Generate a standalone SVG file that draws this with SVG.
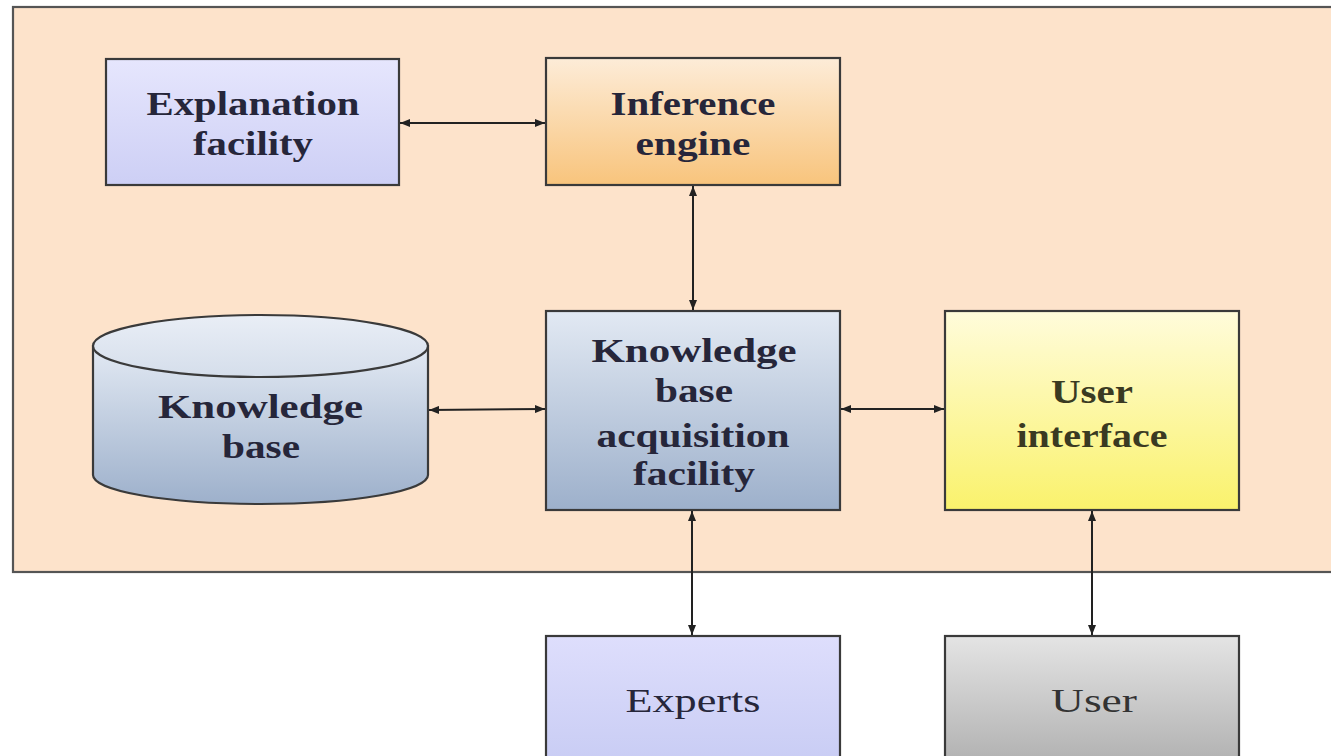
<svg xmlns="http://www.w3.org/2000/svg" width="1331" height="756" viewBox="0 0 1331 756">
<style>
.box{stroke:#3a3a3a;stroke-width:2.2}
.t{font-family:"Liberation Serif","Times New Roman",serif;font-size:33px;fill:#26263a;text-anchor:middle}
.b{font-weight:bold}
.c{stroke:#222;stroke-width:2;fill:none;marker-start:url(#ah);marker-end:url(#ah)}
</style>
<defs>
<marker id="ah" viewBox="0 0 10 8" refX="10" refY="4" markerWidth="10" markerHeight="8" markerUnits="userSpaceOnUse" orient="auto-start-reverse">
<path d="M0,0 L10,4 L0,8 Z" fill="#222"/>
</marker>
<linearGradient id="gExp" x1="0" y1="0" x2="0" y2="1"><stop offset="0" stop-color="#e6e6fd"/><stop offset="1" stop-color="#cdcff5"/></linearGradient>
<linearGradient id="gInf" x1="0" y1="0" x2="0" y2="1"><stop offset="0" stop-color="#fdecd8"/><stop offset="1" stop-color="#f8c47c"/></linearGradient>
<linearGradient id="gKB" x1="0" y1="0" x2="0" y2="1"><stop offset="0" stop-color="#e2e9f3"/><stop offset="1" stop-color="#9db0cb"/></linearGradient>
<linearGradient id="gKBtop" x1="0" y1="0" x2="0" y2="1"><stop offset="0" stop-color="#e9eef6"/><stop offset="1" stop-color="#d5deeb"/></linearGradient>
<linearGradient id="gUI" x1="0" y1="0" x2="0" y2="1"><stop offset="0" stop-color="#fffcdb"/><stop offset="1" stop-color="#faf26c"/></linearGradient>
<linearGradient id="gExpert" x1="0" y1="0" x2="0" y2="1"><stop offset="0" stop-color="#dedefc"/><stop offset="1" stop-color="#c8ccf4"/></linearGradient>
<linearGradient id="gUser" x1="0" y1="0" x2="0" y2="1"><stop offset="0" stop-color="#e4e4e4"/><stop offset="1" stop-color="#b0b0b0"/></linearGradient>
</defs>
<rect width="1331" height="756" fill="#ffffff"/>
<g id="system">
<rect x="13" y="7" width="1340" height="565" fill="#fde3cb" stroke="#555" stroke-width="2.2"/>
</g>
<g id="connectors">
<line class="c" x1="400" y1="123" x2="545" y2="123"/>
<line class="c" x1="693" y1="186" x2="693" y2="310"/>
<line class="c" x1="429" y1="410" x2="545" y2="409"/>
<line class="c" x1="841" y1="409" x2="944" y2="409"/>
<line class="c" x1="692" y1="511" x2="692" y2="635"/>
<line class="c" x1="1092" y1="511" x2="1092" y2="635"/>
</g>
<g id="explanation">
<rect class="box" x="106" y="59" width="293" height="126" fill="url(#gExp)"/>
<text class="t b" x="253" y="115" textLength="213" lengthAdjust="spacingAndGlyphs">Explanation</text>
<text class="t b" x="253" y="155" textLength="120" lengthAdjust="spacingAndGlyphs">facility</text>
</g>
<g id="inference">
<rect class="box" x="546" y="58" width="294" height="127" fill="url(#gInf)"/>
<text class="t b" x="693" y="115" textLength="165" lengthAdjust="spacingAndGlyphs">Inference</text>
<text class="t b" x="693" y="155" textLength="115" lengthAdjust="spacingAndGlyphs">engine</text>
</g>
<g id="knowledge-base">
<path class="box" d="M93,346 L93,475 A167.5,29 0 0 0 428,475 L428,346 Z" fill="url(#gKB)"/>
<ellipse class="box" cx="260.5" cy="346" rx="167.5" ry="31" fill="url(#gKBtop)"/>
<text class="t b" x="260.5" y="418" textLength="205" lengthAdjust="spacingAndGlyphs">Knowledge</text>
<text class="t b" x="261" y="458" textLength="78" lengthAdjust="spacingAndGlyphs">base</text>
</g>
<g id="kb-acquisition">
<rect class="box" x="546" y="311" width="294" height="199" fill="url(#gKB)"/>
<text class="t b" x="694" y="362" textLength="205" lengthAdjust="spacingAndGlyphs">Knowledge</text>
<text class="t b" x="694" y="402" textLength="78" lengthAdjust="spacingAndGlyphs">base</text>
<text class="t b" x="693" y="447" textLength="193" lengthAdjust="spacingAndGlyphs">acquisition</text>
<text class="t b" x="694" y="485" textLength="122" lengthAdjust="spacingAndGlyphs">facility</text>
</g>
<g id="user-interface">
<rect class="box" x="945" y="311" width="294" height="199" fill="url(#gUI)"/>
<text class="t b" x="1092" y="403" textLength="82" lengthAdjust="spacingAndGlyphs" style="fill:#3a3a22">User</text>
<text class="t b" x="1092" y="447" textLength="151" lengthAdjust="spacingAndGlyphs" style="fill:#3a3a22">interface</text>
</g>
<g id="experts">
<rect class="box" x="546" y="636" width="294" height="130" fill="url(#gExpert)"/>
<text class="t" x="693" y="712" textLength="135" lengthAdjust="spacingAndGlyphs">Experts</text>
</g>
<g id="user">
<rect class="box" x="945" y="636" width="294" height="130" fill="url(#gUser)"/>
<text class="t" x="1094" y="712" textLength="86" lengthAdjust="spacingAndGlyphs" style="fill:#333">User</text>
</g>
</svg>
